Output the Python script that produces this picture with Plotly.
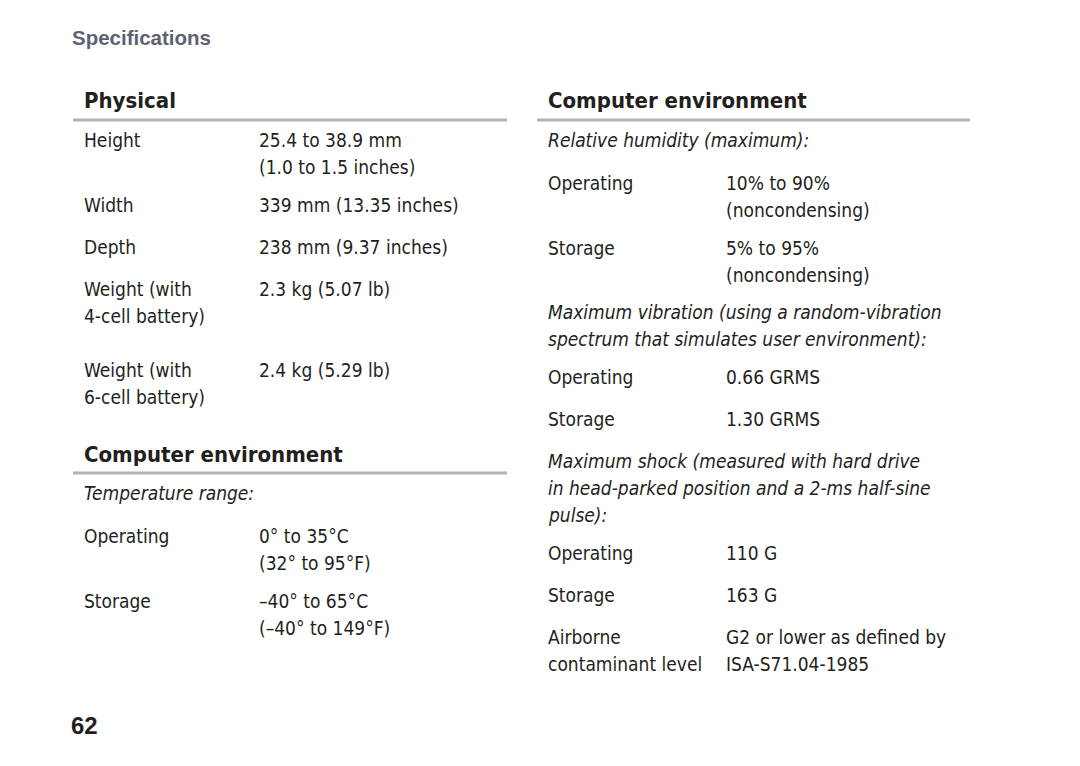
import plotly.graph_objects as go

# page text
page_title = "Specifications"
page_number = "62"

physical_heading = "Physical"
physical_labels = ["Height", "", "Width", "Depth", "Weight (with", "4-cell battery)", "Weight (with", "6-cell battery)"]
physical_values = ["25.4 to 38.9 mm", "(1.0 to 1.5 inches)", "339 mm (13.35 inches)", "238 mm (9.37 inches)",
                   "2.3 kg (5.07 lb)", "", "2.4 kg (5.29 lb)", ""]

env_heading = "Computer environment"
temp_caption = "Temperature range:"
temp_labels = ["Operating", "", "Storage", ""]
temp_values = ["0° to 35°C", "(32° to 95°F)", "–40° to 65°C", "(–40° to 149°F)"]

humidity_caption = "Relative humidity (maximum):"
humidity_labels = ["Operating", "", "Storage", ""]
humidity_values = ["10% to 90%", "(noncondensing)", "5% to 95%", "(noncondensing)"]

vibration_caption = ["Maximum vibration (using a random-vibration", "spectrum that simulates user environment):"]
vibration_labels = ["Operating", "Storage"]
vibration_values = ["0.66 GRMS", "1.30 GRMS"]

shock_caption = ["Maximum shock (measured with hard drive", "in head-parked position and a 2-ms half-sine", "pulse):"]
shock_labels = ["Operating", "Storage", "Airborne", "contaminant level"]
shock_values = ["110 G", "163 G", "G2 or lower as defined by", "ISA-S71.04-1985"]

# layout (pixel positions on the page)
FONT = "DejaVu Sans Condensed, Liberation Sans Narrow, Arial Narrow, sans-serif"
INK = "#231f20"
RULE = "#b4b4b4"
BODY = 19
HEAD = 22
OFF = 8  # page body margin in the browser

physical_y = [140, 167, 205, 247, 289, 316, 370, 397]
temp_y = [536, 563, 601, 628]
humidity_y = [183, 210, 248, 275]
vibration_caption_y = [312, 339]
vibration_y = [377, 419]
shock_caption_y = [461, 488, 515]
shock_y = [553, 595, 637, 664]

LX, VX = 84, 259
RLX, RVX = 548, 726

annotations = []


def txt(x, y, s, size=BODY, color=INK, bold=False, italic=False, family=FONT):
    if not s:
        return
    if bold:
        s = "<b>" + s + "</b>"
    if italic:
        s = "<i>" + s + "</i>"
    annotations.append(dict(x=x, y=y, xref="x", yref="y", text=s, showarrow=False,
                            xanchor="left", yanchor="middle", borderpad=0, borderwidth=0,
                            font=dict(family=family, size=size, color=color)))


txt(72, 37, page_title, size=20.5, color="#5d6272", bold=True, family="Liberation Sans, Arial, sans-serif")
txt(71, 725, page_number, size=24, bold=True, family="Liberation Sans, Arial, sans-serif")

txt(LX, 100, physical_heading, size=HEAD, bold=True)
for y, a, b in zip(physical_y, physical_labels, physical_values):
    txt(LX, y, a)
    txt(VX, y, b)

txt(LX, 454, env_heading, size=HEAD, bold=True)
txt(LX, 493, temp_caption, italic=True)
for y, a, b in zip(temp_y, temp_labels, temp_values):
    txt(LX, y, a)
    txt(VX, y, b)

txt(RLX, 100, env_heading, size=HEAD, bold=True)
txt(RLX, 140, humidity_caption, italic=True)
for y, a, b in zip(humidity_y, humidity_labels, humidity_values):
    txt(RLX, y, a)
    txt(RVX, y, b)
for y, s in zip(vibration_caption_y, vibration_caption):
    txt(RLX, y, s, italic=True)
for y, a, b in zip(vibration_y, vibration_labels, vibration_values):
    txt(RLX, y, a)
    txt(RVX, y, b)
for y, s in zip(shock_caption_y, shock_caption):
    txt(RLX, y, s, italic=True)
for y, a, b in zip(shock_y, shock_labels, shock_values):
    txt(RLX, y, a)
    txt(RVX, y, b)

rules = [(73, 507, 120), (73, 507, 473), (537, 970, 120)]
shapes = [dict(type="line", xref="x", yref="y", x0=x0, x1=x1, y0=y, y1=y,
               line=dict(color=RULE, width=3)) for x0, x1, y in rules]

fig = go.Figure()
fig.update_layout(
    width=1080,
    height=766,
    margin=dict(l=0, r=0, t=0, b=0),
    paper_bgcolor="white",
    plot_bgcolor="white",
    xaxis=dict(range=[OFF, 1080 + OFF], visible=False, fixedrange=True),
    yaxis=dict(range=[766 + OFF, OFF], visible=False, fixedrange=True),
    annotations=annotations,
    shapes=shapes,
    showlegend=False,
)

fig.write_html("out.html", config={"displayModeBar": False})
